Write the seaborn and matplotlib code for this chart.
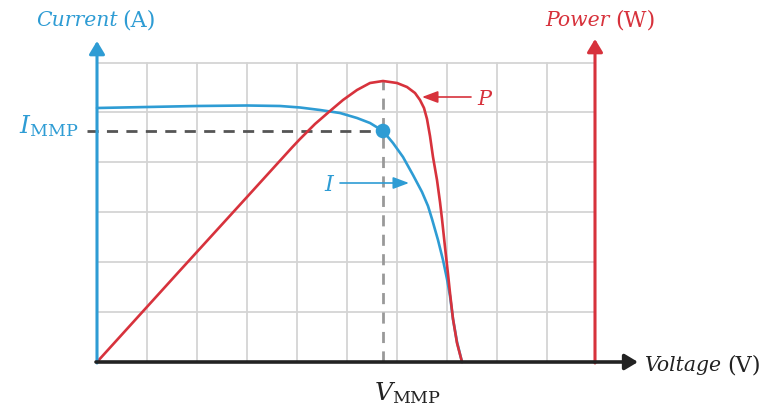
import numpy as np
import pandas as pd
import matplotlib
matplotlib.use("Agg")
import matplotlib.pyplot as plt
import seaborn as sns

# curves (grid units: 1 unit = one grid cell)
volt_i = [0.0, 1.0, 2.0, 3.0, 3.66, 4.06, 4.46, 4.86, 5.2, 5.46, 5.72, 5.92, 6.12, 6.32,
          6.5, 6.62, 6.7, 6.82, 6.92, 7.0, 7.06, 7.12, 7.2, 7.3]
current = [5.08, 5.10, 5.12, 5.13, 5.12, 5.09, 5.04, 4.98, 4.88, 4.78, 4.62, 4.38, 4.10, 3.74,
           3.40, 3.12, 2.86, 2.44, 2.04, 1.66, 1.32, 0.86, 0.40, 0.0]

volt_p = [0.0, 1.66, 3.0, 3.9, 4.06, 4.36, 4.66, 4.92, 5.2, 5.46, 5.72, 6.0, 6.2, 6.36, 6.46,
          6.54, 6.6, 6.66, 6.72, 6.8, 6.86, 6.9, 6.96, 7.02, 7.06, 7.12, 7.2, 7.3]
power = [0.0, 1.83, 3.3, 4.29, 4.46, 4.76, 5.02, 5.24, 5.44, 5.58, 5.62, 5.58, 5.5, 5.38, 5.24,
         5.08, 4.86, 4.52, 4.1, 3.64, 3.2, 2.86, 2.3, 1.76, 1.38, 0.86, 0.38, 0.0]

v_mmp = 5.72
i_mmp = 4.62

blue = "#2e9cd4"
red = "#d7323c"
dark = "#222222"

sns.set_style("white")
plt.rcParams["font.family"] = ["DejaVu Serif"]
plt.rcParams["mathtext.fontset"] = "dejavuserif"

fig = plt.figure(figsize=(7.69, 4.15), dpi=100)
ax = fig.add_axes([0, 0, 1, 1])
ax.set_xlim(-97 / 50, (769 - 97) / 50)
ax.set_ylim(-(415 - 362) / 50, 362 / 50)
ax.axis("off")

# grid
x_right = 9.96
for gx in np.arange(1, 10):
    ax.plot([gx, gx], [0, 5.98], color="#d4d4d4", lw=1.3, zorder=1)
for gy in [1, 2, 3, 4, 5, 5.98]:
    ax.plot([0, x_right], [gy, gy], color="#d4d4d4", lw=1.3, zorder=1)

# dashed guides
ax.plot([-0.2, v_mmp], [i_mmp, i_mmp], color="#555555", lw=2, ls=(0, (4, 3)), zorder=2)
ax.plot([v_mmp, v_mmp], [0, 5.62], color="#999999", lw=2, ls=(0, (4, 3)), zorder=2)

df_i = pd.DataFrame({"V": volt_i, "I": current})
df_p = pd.DataFrame({"V": volt_p, "P": power})
sns.lineplot(data=df_i, x="V", y="I", sort=False, color=blue, lw=1.9, ax=ax, zorder=4,
             solid_joinstyle="round", solid_capstyle="round")
sns.lineplot(data=df_p, x="V", y="P", sort=False, color=red, lw=1.9, ax=ax, zorder=5,
             solid_joinstyle="round", solid_capstyle="round")
sns.scatterplot(x=[v_mmp], y=[i_mmp], color=blue, s=110, edgecolor="none", ax=ax, zorder=6)

# axes with arrows
head = "-|>,head_length=0.6,head_width=0.36"
ax.annotate("", xy=(0, 6.42), xytext=(0, -0.02),
            arrowprops=dict(arrowstyle=head, color=blue, lw=2.2, mutation_scale=13, shrinkA=0, shrinkB=0), zorder=7)
ax.annotate("", xy=(x_right, 6.46), xytext=(x_right, -0.02),
            arrowprops=dict(arrowstyle=head, color=red, lw=2.2, mutation_scale=13, shrinkA=0, shrinkB=0), zorder=7)
ax.annotate("", xy=(10.82, 0), xytext=(-0.02, 0),
            arrowprops=dict(arrowstyle=head, color=dark, lw=2.6, mutation_scale=13, shrinkA=0, shrinkB=0), zorder=8)

# curve labels
small = "-|>,head_length=0.8,head_width=0.3"
ax.annotate("", xy=(6.5, 5.3), xytext=(7.48, 5.3),
            arrowprops=dict(color=red, lw=1.2, arrowstyle=small, mutation_scale=12, shrinkA=0, shrinkB=0))
ax.text(7.6, 5.26, "P", color=red, fontsize=15, style="italic", va="center", ha="left")
ax.annotate("", xy=(6.24, 3.58), xytext=(4.86, 3.58),
            arrowprops=dict(color=blue, lw=1.2, arrowstyle=small, mutation_scale=12, shrinkA=0, shrinkB=0))
ax.text(4.72, 3.54, "I", color=blue, fontsize=16, style="italic", va="center", ha="right")

# axis titles
ax.text(0.42, 6.84, "Current", color=blue, fontsize=14.7, style="italic", ha="right", va="center")
ax.text(0.5, 6.84, "(A)", color=blue, fontsize=16, ha="left", va="center")
ax.text(10.26, 6.84, "Power", color=red, fontsize=14.7, style="italic", ha="right", va="center")
ax.text(10.36, 6.84, "(W)", color=red, fontsize=16, ha="left", va="center")
ax.text(12.5, -0.06, "Voltage", color=dark, fontsize=14.7, style="italic", ha="right", va="center")
ax.text(12.6, -0.06, "(V)", color=dark, fontsize=16, ha="left", va="center")

ax.text(-0.38, i_mmp + 0.1, r"$I_{\mathrm{MMP}}$", color=blue, fontsize=18, ha="right", va="center")
ax.text(v_mmp + 0.5, -0.62, r"$V_{\mathrm{MMP}}$", color=dark, fontsize=18, ha="center", va="center")

fig.savefig("out.png", dpi=100)
